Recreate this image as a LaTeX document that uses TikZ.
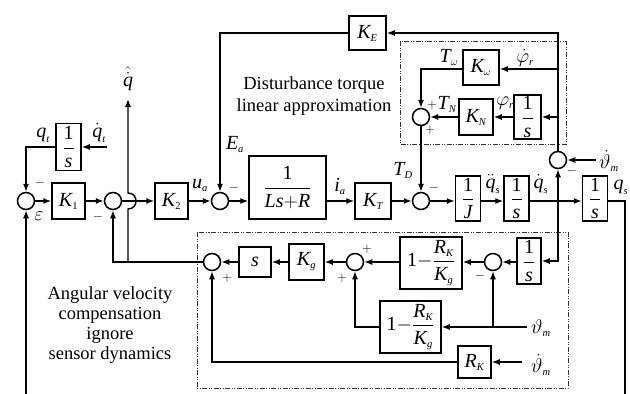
\RequirePackage{fix-cm}
\documentclass[tikz,border=0pt]{standalone}
\usepackage{amsmath}
\usepackage{fontspec}
\setmainfont{Liberation Serif}
\DeclareMathSizes{20}{20}{10.5}{8}
\newcommand{\mv}[1]{\textit{#1}}
\newcommand{\mr}[1]{\textup{#1}}
\usetikzlibrary{arrows.meta,calc}
\begin{document}
\begin{tikzpicture}[x=1pt,y=-1pt,
  line width=1.4pt,
  arr/.style={-{Latex[length=8pt,width=6pt]}},
  bx/.style 2 args={draw,line width=1.5pt,rectangle,inner sep=1pt,
     minimum width=#1pt,minimum height=#2pt,font=\fontsize{20}{22}\selectfont},
  sumn/.style={draw,circle,minimum size=17pt,inner sep=0pt,line width=1.5pt},
  lbl/.style={font=\fontsize{20}{22}\selectfont,inner sep=0pt},
  sgn/.style={font=\fontsize{13}{14}\selectfont,inner sep=0pt},
  txt/.style={align=center,inner sep=0pt},
  frame/.style={draw,line width=0.9pt,black!80,dash pattern=on 5pt off 1.5pt on 1pt off 1.5pt on 1pt off 1.5pt}
]
\useasboundingbox (0,0) rectangle (630,394);

% frames
\draw[frame] (400,41) rectangle (566,144);
\draw[frame] (197,232) rectangle (568,388);

% sums
\node[sumn] (s1) at (26,201) {};
\node[sumn] (s2) at (113,201) {};
\node[sumn] (s3) at (220,201) {};
\node[sumn] (s4) at (421,201) {};
\node[sumn] (s5) at (558,160) {};
\node[sumn] (s6) at (421,117) {};
\node[sumn] (s7) at (212,262) {};
\node[sumn] (s8) at (355,262) {};
\node[sumn] (s9) at (493,262) {};

% blocks
\node[bx={33}{36}] (K1) at (68.5,201) {$\mv{K}_{\mr{1}}$};
\node[bx={33}{36}] (K2) at (171.5,201) {$\mv{K}_{\mr{2}}$};
\node[bx={77}{63}] (LsR) at (287.5,187.5) {$\dfrac{\mr{1}}{\mv{Ls}{+}\mv{R}}$};
\node[bx={36}{36}] (KT) at (373,201) {$\mv{K}_{\mv{T}}$};
\node[bx={25}{45}] (J) at (468,198.5) {$\dfrac{\mr{1}}{\mv{J}}$};
\node[bx={25}{45}] (I1) at (516.5,198.5) {$\dfrac{\mr{1}}{\mv{s}}$};
\node[bx={25}{45}] (I2) at (595,198.5) {$\dfrac{\mr{1}}{\mv{s}}$};
\node[bx={25}{47}] (It) at (68.5,147) {$\dfrac{\mr{1}}{\mv{s}}$};
\node[bx={37}{34}] (KE) at (367.5,33) {$\mv{K}_{\mv{E}}$};
\node[bx={36}{35}] (Kw) at (481,67.5) {$\mv{K}_\omega$};
\node[bx={27}{44}] (I3) at (527.5,117) {$\dfrac{\mr{1}}{\mv{s}}$};
\node[bx={34}{36}] (KN) at (476,117) {$\mv{K}_{\mv{N}}$};
\node[bx={32}{30}] (sb) at (255,262) {$\mv{s}$};
\node[bx={35}{36}] (Kg) at (306.5,262) {$\mv{K}_{\mv{g}}$};
\node[bx={62}{52}] (B1) at (431,263) {$\mr{1}{-}\dfrac{\mv{R}_{\mv{K}}}{\mv{K}_{\mv{g}}}$};
\node[bx={24}{46}] (I4) at (529,261) {$\dfrac{\mr{1}}{\mv{s}}$};
\node[bx={61}{52}] (B2) at (410.5,327) {$\mr{1}{-}\dfrac{\mv{R}_{\mv{K}}}{\mv{K}_{\mv{g}}}$};
\node[bx={33}{32}] (RK) at (474.5,362) {$\mv{R}_{\mv{K}}$};

% free ends and junctions
\coordinate (qtin) at (107,147);
\coordinate (fbL) at (26,394);
\coordinate (fbR) at (625,394);
\coordinate (qhat) at (128,99);
\coordinate (j1) at (128,262);
\coordinate (hb) at (128,209);
\coordinate (ht) at (128,193);
\coordinate (j2) at (558,201);
\coordinate (jw) at (558,69);
\coordinate (jn) at (558,117);
\coordinate (thm1) at (596,160);
\coordinate (thm2) at (527,327);
\coordinate (thm3) at (522,362);
\coordinate (j3) at (493,327);

% connectors
\draw[arr] (qtin) -- (It.east);
\draw[arr] (It.west) -| (s1.north);
\draw[arr] (fbL) -- (s1.south);
\draw[arr] (s1.east) -- (K1.west);
\draw[arr] (K1.east) -- (s2.west);
\draw[arr] (s2.east) -- (K2.west);
\draw[arr] (K2.east) -- (s3.west);
\draw[arr] (s3.east) -- (s3.east -| LsR.west);
\draw[arr] (LsR.east |- KT.west) -- (KT.west);
\draw[arr] (KT.east) -- (s4.west);
\draw[arr] (s4.east) -- (s4.east -| J.west);
\draw[arr] (J.east |- s4.east) -- (s4.east -| I1.west);
\draw[arr] (I1.east |- s4.east) -- (s4.east -| I2.west);
\draw (I2.east |- s4.east) -| (fbR);
\draw[arr] (j1) -- (hb) .. controls (138.7,209) and (138.7,193) .. (ht) -- (qhat);
\draw[arr] (s7.west) -| (s2.south);
\draw[arr] (j2) -- (s5.south);
\draw[arr] (j2) |- (I4.east);
\draw[arr] (thm1) -- (s5.east);
\draw[arr] (s5.north) |- (KE.east);
\draw[arr] (KE.west) -| (s3.north);
\draw[arr] (jw) -- (jw -| Kw.east);
\draw[arr] (jn) -- (I3.east);
\draw[arr] (I3.west) -- (KN.east);
\draw[arr] (KN.west) -- (s6.east);
\draw[arr] (Kw.west |- jw) -| (s6.north);
\draw[arr] (s6.south) -- (s4.north);
\draw[arr] (I4.west |- s9.east) -- (s9.east);
\draw[arr] (s9.west) -- (s9.west -| B1.east);
\draw[arr] (B1.west |- s8.east) -- (s8.east);
\draw[arr] (s8.west) -- (Kg.east);
\draw[arr] (Kg.west) -- (sb.east);
\draw[arr] (sb.west) -- (s7.east);
\draw[arr] (thm2) -- (B2.east);
\draw[arr] (j3) -- (s9.south);
\draw[arr] (B2.west) -| (s8.south);
\draw[arr] (thm3) -- (RK.east);
\draw[arr] (RK.west) -| (s7.south);

% labels
\node[lbl] (l1) at (43,135) {$\mv{q}_{\mv{t}}$};
\node[lbl] (l2) at (99,133) {$\dot{\mv{q}}_{\mv{t}}$};
\node[lbl,anchor=south] (l3) at (128,91) {$\hat{\dot{\mv{q}}}$};
\node[lbl] (l4) at (39,216) {$\varepsilon$};
\node[sgn] (g1) at (40,183) {$-$};
\node[sgn] (g2) at (98,217) {$-$};
\node[lbl] (l5) at (200,185) {$\mv{u}_{\mv{a}}$};
\node[lbl] (l6) at (235,145) {$\mv{E}_{\mv{a}}$};
\node[sgn] (g3) at (234,188) {$-$};
\node[lbl] (l7) at (340,186) {$\mv{i}_{\mv{a}}$};
\node[lbl] (l8) at (403,170) {$\mv{T}_{\mv{D}}$};
\node[sgn] (g4) at (434,188) {$-$};
\node[lbl] (l9) at (493,184) {$\ddot{\mv{q}}_{\mv{s}}$};
\node[lbl] (l10) at (541,184) {$\dot{\mv{q}}_{\mv{s}}$};
\node[lbl] (l11) at (621,187) {$\mv{q}_{\mv{s}}$};
\node[lbl] (l12) at (609,161) {$\dot\vartheta_{\mv{m}}$};
\node[sgn] (g5) at (572,171) {$-$};
\node[lbl] (l13) at (449,57) {$\mv{T}_\omega$};
\node[lbl] (l14) at (525,58) {$\dot\varphi_{\mv{r}}$};
\node[lbl] (l15) at (505,103) {$\varphi_{\mv{r}}$};
\node[sgn] (g6) at (432,105) {$+$};
\node[lbl] (l16) at (447,104) {$\mv{T}_{\mv{N}}$};
\node[sgn] (g7) at (430,130) {$+$};
\node[sgn] (g8) at (227,278) {$+$};
\node[sgn] (g9) at (367,249) {$+$};
\node[sgn] (g10) at (342,278) {$+$};
\node[sgn] (g11) at (480,276) {$-$};
\node[lbl] (l17) at (541,328) {$\vartheta_{\mv{m}}$};
\node[lbl] (l18) at (541,365) {$\dot\vartheta_{\mv{m}}$};

% texts
\node[txt,font=\fontsize{18.5}{22}\selectfont] (t1) at (314,96) {Disturbance torque\\linear approximation};
\node[txt,font=\fontsize{18.5}{20}\selectfont] (t2) at (110,325) {Angular velocity\\compensation\\ignore\\sensor dynamics};
\end{tikzpicture}
\end{document}
